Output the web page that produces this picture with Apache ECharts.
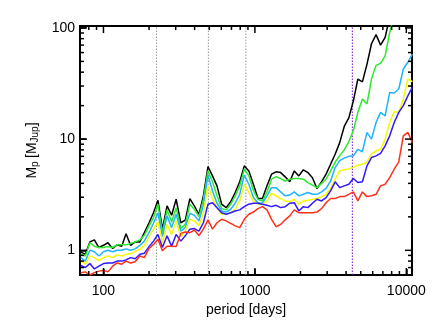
<!DOCTYPE html>
<html>
<head>
<meta charset="utf-8">
<script src="https://cdn.jsdelivr.net/npm/echarts@6/dist/echarts.min.js"></script>
<style>
html, body { margin: 0; padding: 0; background: #fff; }
#chart { width: 436px; height: 327px; }
</style>
</head>
<body>
<div id="chart"></div>
<script>
// periods (days) where the mass limits were sampled
var periods = [70.8, 75.9, 81.3, 87.1, 93.3, 100, 107, 115, 123, 132,
    141, 151, 162, 174, 186, 200, 214, 229, 245, 263,
    282, 302, 324, 347, 372, 398, 427, 457, 490, 525,
    562, 603, 646, 692, 741, 794, 851, 912, 977, 1047,
    1122, 1202, 1288, 1380, 1479, 1585, 1698, 1820, 1950, 2089,
    2239, 2399, 2570, 2754, 2951, 3162, 3388, 3631, 3890, 4169,
    4467, 4786, 5129, 5495, 5888, 6310, 6761, 7244, 7762, 8318,
    8913, 9550, 10233, 10965];

// mass limits (M_Jup), one list per curve
var massBlack = [0.97, 0.92, 1.19, 1.24, 1.06, 1.11, 1.17, 1.04, 1.12, 1.09,
    1.41, 1.11, 1.19, 1.19, 1.44, 1.77, 2.18, 2.82, 1.55, 2.51,
    2.07, 2.88, 1.77, 1.87, 2.92, 2.51, 2.11, 3.09, 5.67, 4.67,
    3.8, 2.6, 2.42, 2.73, 3.31, 4.13, 5.75, 5.18, 3.93, 2.94,
    2.92, 3.8, 4.84, 5.08, 5.0, 4.58, 4.13, 5.18, 4.67, 5.3,
    5.0, 4.5, 3.6, 4.13, 4.84, 5.95, 7.3, 9.3, 13, 15.5,
    22, 34.7, 32.7, 47, 72, 87, 70, 82, 125, 170,
    230, 300, 390, 500];
var massGreen = [0.93, 0.89, 1.17, 1.09, 1.06, 1.06, 1.08, 1.06, 1.12, 1.12,
    1.12, 1.15, 1.19, 1.24, 1.36, 1.66, 1.97, 2.6, 1.44, 2.31,
    1.8, 2.42, 1.57, 1.71, 2.6, 2.34, 2.01, 2.88, 5.18, 4.13,
    3.09, 2.37, 2.31, 2.6, 3.09, 3.8, 5.36, 4.7, 3.45, 2.88,
    2.78, 3.35, 4.36, 4.6, 4.42, 4.2, 4.36, 4.42, 4.42, 4.36,
    4.07, 3.85, 3.66, 4.0, 4.36, 5.18, 6.2, 7.1, 8.0, 9.5,
    11.9, 17.4, 22.9, 20.7, 34.7, 46, 48, 56, 91, 130,
    180, 250, 330, 430];
var massCyan = [0.86, 0.80, 1.0, 0.97, 0.89, 0.97, 1.0, 0.97, 1.0, 1.0,
    1.03, 1.0, 1.03, 1.11, 1.21, 1.44, 1.75, 2.18, 1.33, 2.04,
    1.6, 2.11, 1.49, 1.6, 2.15, 2.07, 1.84, 2.54, 4.74, 3.42,
    2.65, 2.26, 2.21, 2.34, 2.65, 3.19, 4.74, 3.93, 2.98, 2.68,
    2.65, 3.09, 3.66, 3.66, 3.35, 3.09, 3.14, 3.35, 3.09, 3.19,
    3.31, 3.19, 3.19, 3.35, 3.6, 4.2, 5.55, 6.4, 6.75, 7.0,
    7.07, 8.1, 7.7, 11.5, 10, 14.1, 17.4, 16.2, 26.3, 26,
    28.2, 42.7, 49.1, 58];
var massYellow = [0.80, 0.75, 0.89, 0.86, 0.81, 0.86, 0.89, 0.86, 0.91, 0.89,
    0.92, 0.93, 0.98, 1.02, 1.11, 1.33, 1.55, 1.8, 1.17, 1.71,
    1.39, 1.84, 1.33, 1.49, 1.9, 1.84, 1.66, 2.18, 3.8, 2.92,
    2.42, 2.11, 2.11, 2.18, 2.34, 2.78, 3.93, 3.31, 2.78, 2.6,
    2.6, 2.78, 3.26, 3.09, 2.92, 2.78, 2.73, 2.88, 2.6, 2.78,
    2.82, 2.88, 2.92, 3.04, 3.19, 3.6, 4.36, 5.18, 5.3, 5.4,
    5.6, 5.82, 5.95, 6.2, 7.35, 7.85, 8.1, 10, 14.1, 17.6,
    17.4, 22.9, 34.7, 32.8];
var massBlue = [0.73, 0.70, 0.76, 0.68, 0.72, 0.76, 0.77, 0.77, 0.80, 0.80,
    0.82, 0.86, 0.84, 0.92, 0.94, 1.08, 1.21, 1.39, 1.06, 1.35,
    1.09, 1.39, 1.21, 1.35, 1.55, 1.57, 1.49, 1.77, 2.6, 2.68,
    2.42, 2.18, 2.11, 2.18, 2.26, 2.31, 2.47, 2.6, 2.65, 2.65,
    2.6, 2.54, 2.47, 2.54, 2.42, 2.47, 2.65, 2.68, 2.26, 2.47,
    2.42, 2.65, 2.88, 2.78, 2.98, 3.42, 4.13, 3.66, 3.8, 3.93,
    4.42, 4.07, 4.13, 5.75, 6.83, 7.07, 7.45, 8.7, 10.7, 14.1,
    17.4, 20, 24.5, 29.3];
var massRed = [0.63, 0.64, 0.60, 0.63, 0.65, 0.66, 0.64, 0.72, 0.77, 0.75,
    0.80, 0.77, 0.79, 0.89, 0.86, 1.04, 1.13, 1.26, 0.99, 1.09,
    1.09, 1.08, 1.42, 1.46, 1.44, 1.52, 1.36, 1.55, 1.88, 1.55,
    1.77, 1.9, 1.84, 1.75, 1.66, 1.6, 1.9, 2.11, 2.21, 2.37,
    2.47, 2.31, 1.9, 1.63, 1.71, 1.88, 2.04, 2.31, 2.18, 2.18,
    2.18, 2.18, 2.21, 2.37, 2.68, 2.92, 2.92, 3.04, 3.04, 3.19,
    3.35, 2.78, 3.35, 3.04, 3.09, 3.19, 3.8, 3.93, 4.5, 5.36,
    6.25, 10.7, 11.5, 9.3];

// vertical reference periods
var grayPeriods = [224, 493, 872];
var purplePeriods = [4400];

// tick positions
var xMajor = [100, 1000, 10000];
var xMinor = [80, 90, 200, 300, 400, 500, 600, 700, 800, 900,
    2000, 3000, 4000, 5000, 6000, 7000, 8000, 9000];
var yMajor = [1, 10, 100];
var yMinor = [0.7, 0.8, 0.9, 2, 3, 4, 5, 6, 7, 8, 9, 20, 30, 40, 50, 60, 70, 80, 90];

var X_MIN = 70, X_MAX = 10900, Y_MIN = 0.6, Y_MAX = 104;
var FONT = 'Liberation Sans, Arial, Helvetica, sans-serif';

function pairs(ys) {
    var out = [];
    for (var i = 0; i < periods.length; i++) {
        out.push([periods[i], ys[i]]);
    }
    return out;
}

function curve(name, color, ys) {
    return {
        name: name,
        type: 'line',
        data: pairs(ys),
        symbol: 'none',
        clip: true,
        color: color,
        lineStyle: { color: color, width: 1.5 },
        z: 3
    };
}

// a dotted vertical line across the whole plot, as its own series
function vLine(p, color) {
    return {
        type: 'line',
        data: [[p, Y_MIN], [p, Y_MAX]],
        symbol: 'none',
        silent: true,
        color: color,
        lineStyle: { color: color, type: [1.5, 1.5], width: 1 },
        z: 2
    };
}

// one short black segment between two data points
function tickSeries(a, b) {
    return {
        type: 'line',
        data: [a, b],
        symbol: 'none',
        silent: true,
        clip: false,
        color: '#000',
        lineStyle: { color: '#000', width: 1.5 },
        z: 6
    };
}

function decadeLabel(v) {
    var l = Math.log(v) / Math.LN10;
    if (Math.abs(l - Math.round(l)) < 1e-6) {
        return String(Math.round(v));
    }
    return '';
}

var series = [];
grayPeriods.forEach(function (p) { series.push(vLine(p, '#9a9a9a')); });
purplePeriods.forEach(function (p) { series.push(vLine(p, '#7010d8')); });
series.push(curve('black', '#000000', massBlack));
series.push(curve('green', '#2ee82e', massGreen));
series.push(curve('cyan', '#1eb4ff', massCyan));
series.push(curve('yellow', '#f8f800', massYellow));
series.push(curve('blue', '#3018ff', massBlue));
series.push(curve('red', '#ff3018', massRed));

var option = {
    animation: false,
    backgroundColor: '#fff',
    grid: {
        left: 80, right: 24, top: 26, bottom: 52,
        show: true, borderColor: '#000', borderWidth: 2,
        backgroundColor: 'transparent'
    },
    xAxis: {
        type: 'log',
        min: X_MIN,
        max: X_MAX,
        name: 'period [days]',
        nameLocation: 'middle',
        nameGap: 25,
        nameTextStyle: { fontFamily: FONT, fontSize: 14, color: '#000' },
        axisLine: { show: false },
        axisTick: { show: true, inside: true, length: 6, lineStyle: { color: '#000', width: 1.5 } },
        splitLine: { show: false },
        axisLabel: { formatter: decadeLabel, fontFamily: FONT, fontSize: 14, color: '#000', margin: 9 }
    },
    yAxis: {
        type: 'log',
        min: Y_MIN,
        max: Y_MAX,
        name: '{m|M}{s|p} {m|[M}{s|Jup}{m|]}',
        nameLocation: 'middle',
        nameGap: 34,
        nameRotate: 90,
        nameTextStyle: {
            color: '#000',
            rich: {
                m: { fontFamily: FONT, fontSize: 14, lineHeight: 18, color: '#000' },
                s: { fontFamily: FONT, fontSize: 10, lineHeight: 8, verticalAlign: 'bottom', color: '#000' }
            }
        },
        axisLine: { show: false },
        axisTick: { show: true, inside: true, length: 6, lineStyle: { color: '#000', width: 1.5 } },
        splitLine: { show: false },
        axisLabel: { formatter: decadeLabel, fontFamily: FONT, fontSize: 14, color: '#000', margin: 5 }
    },
    series: series
};

var chart = echarts.init(document.getElementById('chart'), null, { renderer: 'canvas' });
chart.setOption(option);

// inward ticks on all four sides; the tick length in pixels is turned into
// a factor in data space from the axes' own pixel scale
var finder = { xAxisIndex: 0, yAxisIndex: 0 };
var o = chart.convertToPixel(finder, [100, 1]);
var d = chart.convertToPixel(finder, [1000, 10]);
var pxPerDecX = d[0] - o[0];
var pxPerDecY = o[1] - d[1];
function fx(len) { return Math.pow(10, len / pxPerDecX); }
function fy(len) { return Math.pow(10, len / pxPerDecY); }

var tickList = [];
xMajor.forEach(function (v) { tickList.push(['x', v, 7]); });
xMinor.forEach(function (v) { tickList.push(['x', v, 4]); });
yMajor.forEach(function (v) { tickList.push(['y', v, 7]); });
yMinor.forEach(function (v) { tickList.push(['y', v, 4]); });
tickList.forEach(function (t) {
    var v = t[1], len = t[2];
    if (t[0] === 'x') {
        series.push(tickSeries([v, Y_MIN], [v, Y_MIN * fy(len)]));
        series.push(tickSeries([v, Y_MAX], [v, Y_MAX / fy(len)]));
    } else {
        series.push(tickSeries([X_MIN, v], [X_MIN * fx(len), v]));
        series.push(tickSeries([X_MAX, v], [X_MAX / fx(len), v]));
    }
});
chart.setOption({ series: series });
</script>
</body>
</html>
